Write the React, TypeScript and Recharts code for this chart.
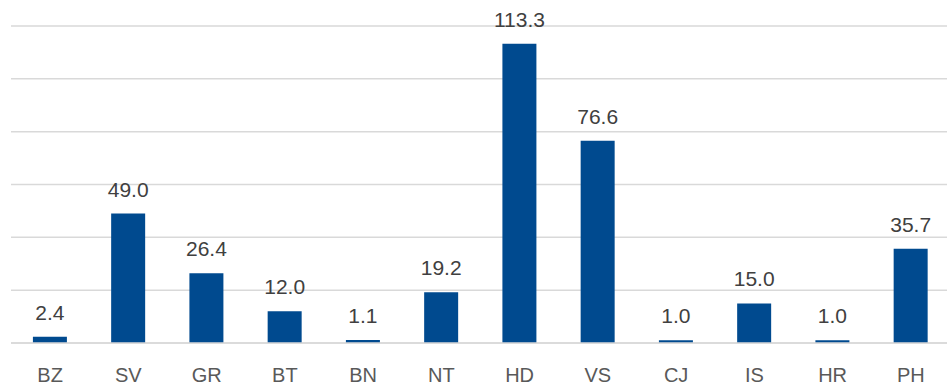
import React from "react";
import { BarChart, Bar, XAxis, YAxis, CartesianGrid, LabelList } from "recharts";

const categories = ["BZ", "SV", "GR", "BT", "BN", "NT", "HD", "VS", "CJ", "IS", "HR", "PH"];
const values = [2.4, 49.0, 26.4, 12.0, 1.1, 19.2, 113.3, 76.6, 1.0, 15.0, 1.0, 35.7];
const yTicks = [0, 20, 40, 60, 80, 100, 120];

const data = categories.map((c, i) => ({ name: c, value: values[i] }));

const FONT = "'Liberation Sans', Arial, sans-serif";

export default function App() {
  return (
    <div style={{ position: "absolute", left: 0, top: 0, width: 947, height: 385, overflow: "hidden", background: "#fff" }}>
      <BarChart
        width={950}
        height={385}
        data={data}
        margin={{ top: 26, right: 0, bottom: 0, left: 11 }}
        barCategoryGap="28%"
      >
        <CartesianGrid vertical={false} stroke="#d9d9d9" strokeWidth={1.5} />
        <YAxis hide domain={[0, 120]} ticks={yTicks} />
        <XAxis
          dataKey="name"
          height={42}
          axisLine={{ stroke: "#d9d9d9", strokeWidth: 1.5 }}
          tickLine={false}
          tickSize={0}
          tickMargin={25}
          interval={0}
          tick={{ fill: "#595959", fontSize: 20, fontFamily: FONT }}
        />
        <Bar dataKey="value" fill="#004A8F" isAnimationActive={false}>
          <LabelList
            dataKey="value"
            position="top"
            offset={17}
            formatter={(v: number) => Number(v).toFixed(1)}
            style={{ fill: "#404040", fontSize: 21, fontFamily: FONT }}
          />
        </Bar>
      </BarChart>
    </div>
  );
}
